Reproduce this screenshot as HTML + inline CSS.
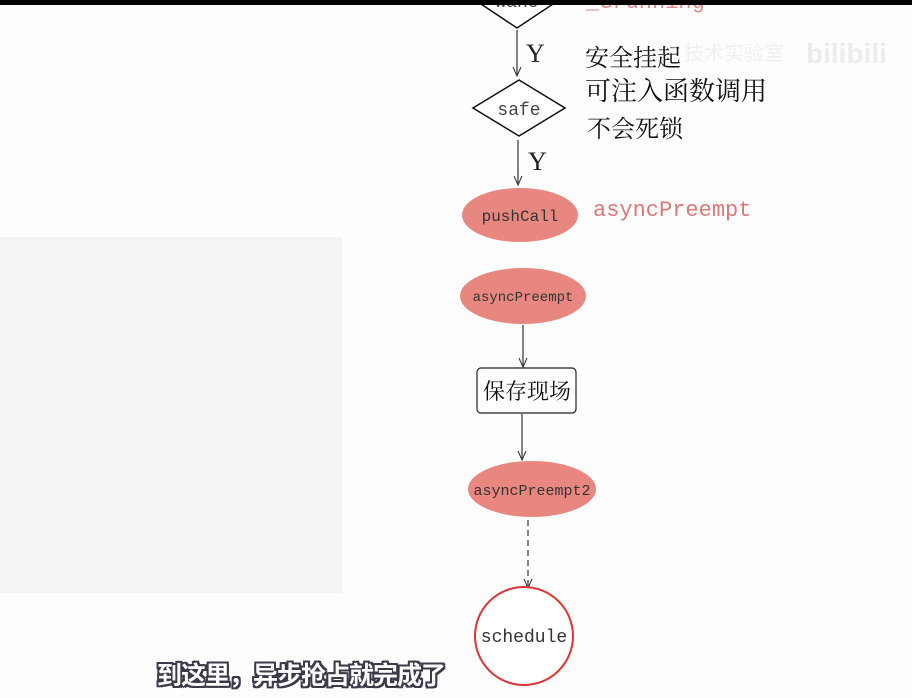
<!DOCTYPE html>
<html><head><meta charset="utf-8"><style>
html,body{margin:0;padding:0;}
body{width:912px;height:698px;background:#fdfdfd;position:relative;overflow:hidden;font-family:"Liberation Mono","Noto Sans CJK SC",monospace;}
.gray{position:absolute;left:0;top:237px;width:342px;height:356px;background:#f4f4f4;}
.top{position:absolute;left:0;top:0;width:912px;height:5px;background:#000;}
.sub{position:absolute;left:157px;top:656px;font-family:"Liberation Sans","Noto Sans CJK SC",sans-serif;font-size:25px;font-weight:bold;color:#fff;letter-spacing:-1px;
text-shadow:-2px 0 #3a3a48,2px 0 #3a3a48,0 -2px #3a3a48,0 2px #3a3a48,-2px -2px #3a3a48,2px 2px #3a3a48,-2px 2px #3a3a48,2px -2px #3a3a48;}
</style></head><body>
<div class="gray"></div>
<svg width="912" height="698" style="position:absolute;left:0;top:0">
<defs><marker id="a" markerUnits="userSpaceOnUse" markerWidth="12" markerHeight="12" refX="10" refY="6" orient="auto"><path d="M1,2 L10,6 L1,10" fill="none" stroke="#333" stroke-width="1"/></marker></defs>
<polygon points="475,0 517,28 559,0" fill="#fff" stroke="#111" stroke-width="1.5"/>
<text x="517" y="7" font-size="18" text-anchor="middle" fill="#444" font-family="Liberation Mono">wane</text>
<text x="586" y="8" font-size="22" fill="#e08a8a" font-family="Liberation Mono">_Grunning</text>
<line x1="517" y1="30" x2="517" y2="76" stroke="#333" stroke-width="1.2" marker-end="url(#a)"/>
<text x="526" y="62" font-size="26" fill="#222" font-family="Liberation Serif">Y</text>
<polygon points="473,108 519,80 565,108 519,136" fill="#fff" stroke="#111" stroke-width="1.5"/>
<text x="519" y="115" font-size="18" text-anchor="middle" fill="#444">safe</text>
<line x1="518" y1="140" x2="518" y2="185" stroke="#333" stroke-width="1.2" marker-end="url(#a)"/>
<text x="528" y="170" font-size="26" fill="#222" font-family="Liberation Serif">Y</text>
<g font-family="Noto Serif CJK SC,Noto Sans CJK SC,serif" fill="#111">
<text x="585" y="66" font-size="24">安全挂起</text>
<text x="585" y="100" font-size="26">可注入函数调用</text>
<text x="587" y="137" font-size="24">不会死锁</text>
</g>
<text x="684" y="60" font-size="20" fill="#f0f0f0" font-family="Noto Sans CJK SC">技术实验室</text>
<text x="806" y="63" font-size="28" font-weight="bold" fill="#ececec" font-family="Liberation Sans">bilibili</text>
<ellipse cx="520" cy="215" rx="58" ry="27" fill="#e8877f"/>
<text x="520" y="221" font-size="16" text-anchor="middle" fill="#333">pushCall</text>
<text x="593" y="216" font-size="22" fill="#dc7878">asyncPreempt</text>
<ellipse cx="523" cy="296" rx="63" ry="28" fill="#e8877f"/>
<text x="523" y="301" font-size="14" text-anchor="middle" fill="#333">asyncPreempt</text>
<line x1="523" y1="325" x2="523" y2="367" stroke="#333" stroke-width="1.2" marker-end="url(#a)"/>
<rect x="477" y="368" width="99" height="45" rx="4" fill="#fff" stroke="#222" stroke-width="1.2"/>
<text x="527" y="399" font-size="22" text-anchor="middle" fill="#111" font-family="Noto Serif CJK SC,serif">保存现场</text>
<line x1="522" y1="414" x2="522" y2="460" stroke="#333" stroke-width="1.2" marker-end="url(#a)"/>
<ellipse cx="532" cy="489" rx="64" ry="28" fill="#e8877f"/>
<text x="532" y="495" font-size="15" text-anchor="middle" fill="#333">asyncPreempt2</text>
<line x1="528" y1="520" x2="528" y2="588" stroke="#333" stroke-width="1.2" stroke-dasharray="6,4" marker-end="url(#a)"/>
<circle cx="524" cy="636" r="49" fill="#fff" stroke="#d33" stroke-width="2"/>
<text x="524" y="642" font-size="18" text-anchor="middle" fill="#333">schedule</text>
</svg>
<div class="top"></div>
<div class="sub">到这里，异步抢占就完成了</div>
</body></html>
